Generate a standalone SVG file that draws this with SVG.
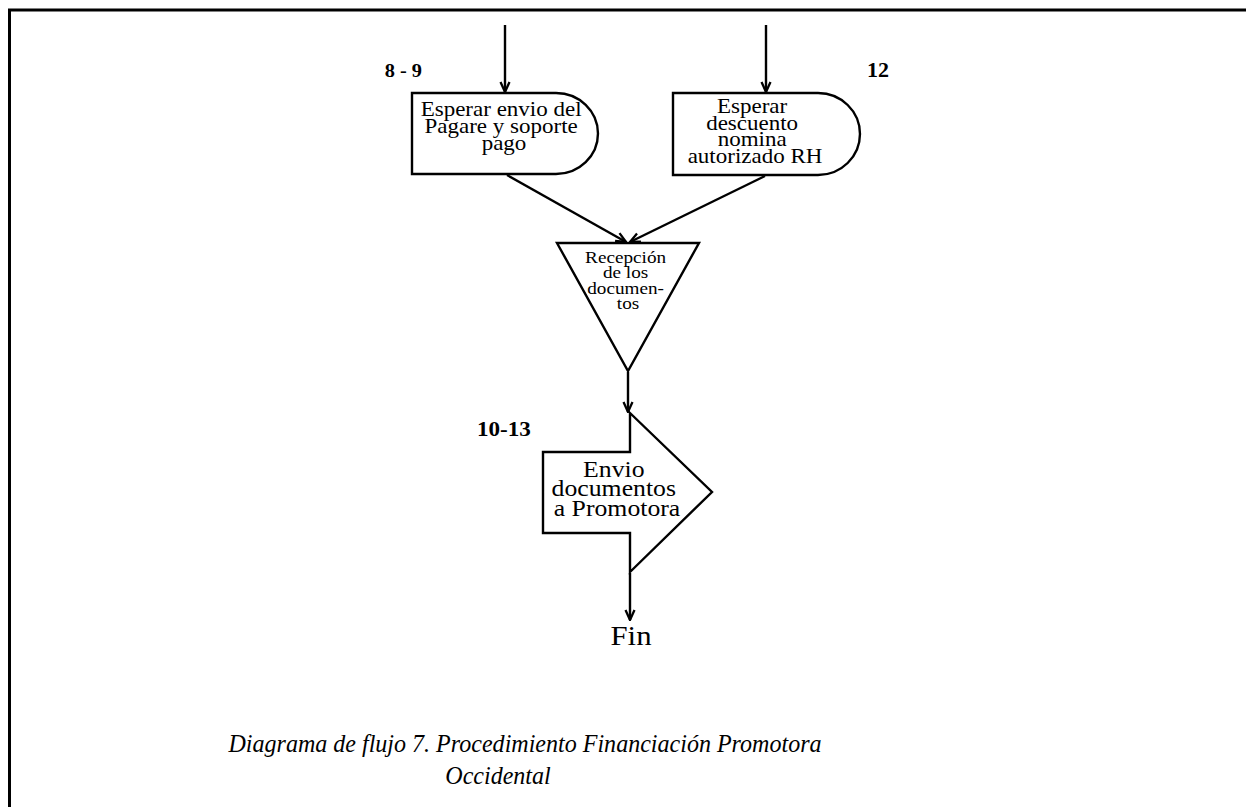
<svg xmlns="http://www.w3.org/2000/svg" width="1246" height="807" viewBox="0 0 1246 807">
  <defs>
    <style>
      .frame { stroke: #000; stroke-width: 3; fill: none; }
      .shape { fill: #fff; stroke: #000; stroke-width: 2.4; stroke-linejoin: miter; }
      .edge { fill: none; stroke: #000; stroke-width: 2.4; marker-end: url(#arrow); }
      .txt { font-family: "Liberation Serif", "Times New Roman", serif; fill: #000; text-anchor: middle; }
      .num { font-family: "Liberation Serif", "Times New Roman", serif; fill: #000; font-weight: bold; }
      .cap { font-family: "Liberation Serif", "Times New Roman", serif; fill: #000; font-style: italic; text-anchor: middle; font-size: 26px; }
    </style>
    <marker id="arrow" markerWidth="12" markerHeight="12" viewBox="0 0 12 12" refX="11" refY="6" orient="auto" markerUnits="userSpaceOnUse">
      <path d="M1,1.5 L11,6 L1,10.5" fill="none" stroke="#000" stroke-width="2.3"/>
    </marker>
  </defs>

  <rect width="1246" height="807" fill="#fff"/>

  <!-- page frame: top and left rules -->
  <path class="frame" d="M9.5,807 V10 H1246"/>

  <!-- connectors -->
  <g id="connectors">
    <line class="edge" x1="505" y1="25" x2="505" y2="92"/>
    <line class="edge" x1="766" y1="25" x2="766" y2="92"/>
    <line class="edge" x1="507" y1="175" x2="626" y2="242"/>
    <line class="edge" x1="765" y1="176" x2="630" y2="242"/>
    <line class="edge" x1="628" y1="372" x2="628" y2="412"/>
    <line class="edge" x1="630" y1="573" x2="630" y2="620"/>
  </g>

  <!-- delay: Esperar envio del Pagare -->
  <g id="node-esperar-pagare">
    <path class="shape" d="M412,93 H556 A42,40.5 0 0 1 556,174 H412 Z"/>
    <text class="txt" font-size="20" transform="translate(504 0) scale(1.15 1)">
      <tspan x="0" y="116">Esperar envio del</tspan>
      <tspan x="0" y="133">Pagare y soporte</tspan>
      <tspan x="0" y="150">pago</tspan>
    </text>
    <text class="num" font-size="18.5" text-anchor="end" transform="translate(422 0) scale(1.1 1)" x="0" y="77">8 - 9</text>
  </g>

  <!-- delay: Esperar descuento nomina -->
  <g id="node-esperar-descuento">
    <path class="shape" d="M673,93 H818 A42,41 0 0 1 818,175 H673 Z"/>
    <text class="txt" font-size="20" transform="translate(755 0) scale(1.15 1)">
      <tspan x="0" y="113">Esperar</tspan>
      <tspan x="0" y="130">descuento</tspan>
      <tspan x="0" y="146">nomina</tspan>
      <tspan x="0" y="163">autorizado RH</tspan>
    </text>
    <text class="num" font-size="20" transform="translate(867 0) scale(1.1 1)" x="0" y="77">12</text>
  </g>

  <!-- merge: Recepción de los documentos -->
  <g id="node-recepcion">
    <path class="shape" d="M557,243 H699 L628,371 Z"/>
    <text class="txt" font-size="17" transform="translate(628 0) scale(1.13 1)">
      <tspan x="0" y="263">Recepción</tspan>
      <tspan x="0" y="278">de los</tspan>
      <tspan x="0" y="294">documen-</tspan>
      <tspan x="0" y="309">tos</tspan>
    </text>
  </g>

  <!-- off-page arrow: Envio documentos a Promotora -->
  <g id="node-envio">
    <path class="shape" d="M630,413 L712,492 L630,572 V533 H543 V452 H630 Z"/>
    <text class="txt" font-size="23" transform="translate(617 0) scale(1.12 1)">
      <tspan x="0" y="477">Envio</tspan>
      <tspan x="0" y="496">documentos</tspan>
      <tspan x="0" y="516">a Promotora</tspan>
    </text>
    <text class="num" font-size="21" transform="translate(477 0) scale(1.1 1)" x="0" y="436">10-13</text>
  </g>

  <!-- terminal: Fin -->
  <g id="node-fin">
    <text class="txt" font-size="28" transform="translate(631 0) scale(1.1 1)" x="0" y="645">Fin</text>
  </g>

  <!-- caption -->
  <g id="caption">
    <text class="cap" transform="translate(525 0) scale(0.925 1)" x="0" y="752">Diagrama de flujo 7. Procedimiento Financiación Promotora</text>
    <text class="cap" transform="translate(498 0) scale(0.925 1)" x="0" y="784">Occidental</text>
  </g>
</svg>
